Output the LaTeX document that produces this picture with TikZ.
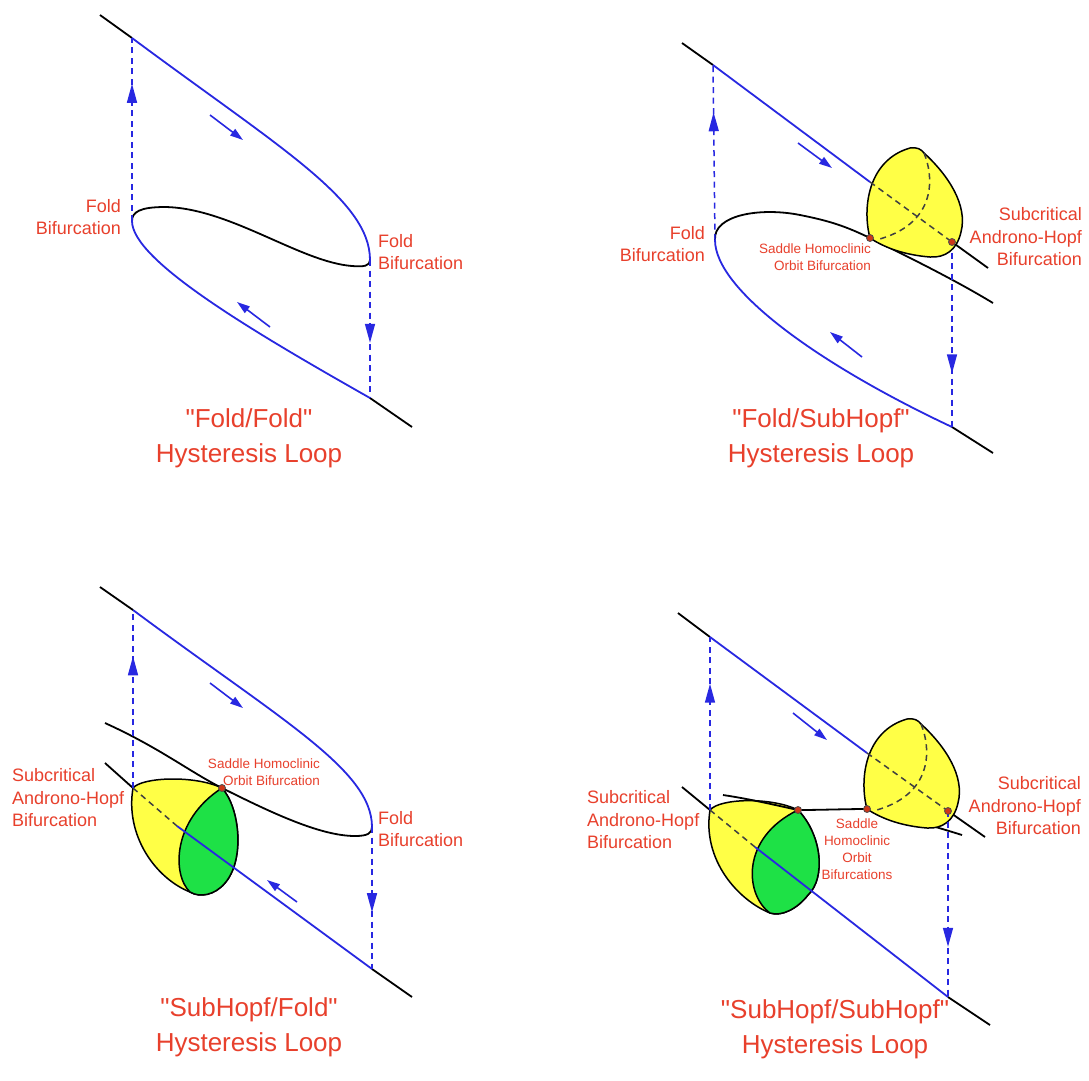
\documentclass[tikz,border=0pt]{standalone}
\usepackage{fontspec}
\setmainfont{Liberation Sans}
\usetikzlibrary{arrows.meta,decorations.markings}
\newcommand\sq{\XeTeXglyph\XeTeXcharglyph34\relax}
\definecolor{lbl}{RGB}{232,64,44}
\definecolor{bl}{RGB}{40,40,225}
\definecolor{yel}{RGB}{255,255,70}
\definecolor{grn}{RGB}{30,225,70}
\definecolor{dotc}{RGB}{205,55,25}
\tikzset{
 blk/.style={line width=1.8pt, black},
 blu/.style={line width=1.8pt, bl},
 jmpline/.style={line width=1.5pt, bl, dash pattern=on 6pt off 4.5pt},
 jumpat/.style={postaction={decorate, decoration={markings, mark=at position #1 with {\arrow[bl]{Triangle[length=19pt,width=10pt]}}}}},
 flowarr/.style={line width=1.6pt, bl, -{Triangle[length=13pt,width=8pt]}},
 hid/.style={line width=1.5pt, black!75, dash pattern=on 6pt off 4.5pt},
 surf/.style={line width=1.5pt, black, line join=round},
 lab/.style={text=lbl, font=\fontsize{18}{22.5}\selectfont, inner sep=0pt},
 slab/.style={text=lbl, font=\fontsize{13.5}{17}\selectfont, inner sep=0pt},
 ttl/.style={text=lbl, font=\fontsize{26}{35}\selectfont, align=center, inner sep=0pt},
 rdot/.style={circle, fill=dotc, draw=black!70, line width=0.8pt, minimum size=7pt, inner sep=0pt},
 bulb/.pic={
  \draw[surf, fill=yel] (0,0) .. controls (-8,-30) and (-2,-78) .. (40,-90)
     .. controls (47,-91) and (51,-89) .. (54,-85)
     .. controls (78,-63) and (98,-33) .. (91,-6)
     .. controls (87,12) and (75,20) .. (60,19)
     .. controls (35,17) and (15,10) .. (0,0) -- cycle;
  \draw[hid] (54,-85) .. controls (65,-58) and (65,-13) .. (6,2);
 }
}
\begin{document}
\begin{tikzpicture}[x=1pt,y=-1pt]
\fill[white] (0,0) rectangle (1089,1080);
\useasboundingbox (0,0) rectangle (1089,1080);

% ================= Panel 1 : Fold/Fold =================
\coordinate (p1a) at (100,15);
\coordinate (p1b) at (132,38);
\coordinate (p1R) at (370,260);
\coordinate (p1L) at (132,221);
\coordinate (p1c) at (370,398);
\coordinate (p1d) at (412,427);
\draw[blk] (p1a) -- (p1b);
\draw[blu] (p1b) .. controls (280,148) and (370,200) .. (p1R);
\draw[blk] (p1R) .. controls (370,266) and (364,267) .. (352,266)
   .. controls (300,262) and (230,208) .. (165,207)
   .. controls (140,207) and (132,212) .. (p1L);
\draw[blu] (p1L) .. controls (132,260) and (250,330) .. (p1c);
\draw[blk] (p1c) -- (p1d);
\draw[jmpline, jumpat=0.75] (p1L) -- (p1b);
\draw[jmpline, jumpat=0.6] (p1R) -- (p1c);
\coordinate (p1u1) at (210,115); \coordinate (p1u2) at (243,140);
\coordinate (p1v1) at (270,327); \coordinate (p1v2) at (237,302);
\draw[flowarr] (p1u1) -- (p1u2);
\draw[flowarr] (p1v1) -- (p1v2);
\node[lab, anchor=east, align=right] (p1lf) at (121,217) {Fold\\Bifurcation};
\node[lab, anchor=west, align=left] (p1rf) at (378,252) {Fold\\Bifurcation};
\node[ttl] (p1t) at (249,438) {\sq Fold/Fold\sq\\Hysteresis Loop};

% ================= Panel 2 : Fold/SubHopf =================
\coordinate (p2a) at (682,43);
\coordinate (p2b) at (713,65);
\coordinate (p2e) at (870,182);
\coordinate (p2h) at (952,242);
\coordinate (p2f) at (988,268);
\coordinate (p2L) at (715,240);
\coordinate (p2s) at (870,238);
\coordinate (p2g) at (993,303);
\coordinate (p2c) at (952,427);
\coordinate (p2d) at (993,453);
\draw[blk] (p2a) -- (p2b);
\draw[blu] (p2b) -- (p2e);
\draw[blk] (p2h) -- (p2f);
\draw[blk] (p2L) .. controls (713,215) and (760,207) .. (800,215)
   .. controls (830,221) and (845,226) .. (p2s)
   .. controls (900,253) and (950,277) .. (p2g);
\draw[blu] (p2L) .. controls (715,290) and (820,365) .. (p2c);
\draw[blk] (p2c) -- (p2d);
\draw[jmpline, jumpat=0.73] (p2L) -- (p2b);
\draw[jmpline, jumpat=0.71] (p2h) -- (p2c);
\coordinate (p2u1) at (798,143); \coordinate (p2u2) at (832,168);
\coordinate (p2v1) at (862,357); \coordinate (p2v2) at (830,332);
\draw[flowarr] (p2u1) -- (p2u2);
\draw[flowarr] (p2v1) -- (p2v2);
\pic at (p2s) {bulb};
\draw[hid] (p2e) -- (p2h);
\node[rdot] (p2sd) at (p2s) {};
\node[rdot] (p2hd) at (p2h) {};
\node[lab, anchor=east, align=right] (p2lf) at (705,244) {Fold\\Bifurcation};
\node[slab, anchor=east, align=right] (p2sl) at (871,257) {Saddle Homoclinic\\Orbit Bifurcation};
\node[lab, anchor=east, align=right] (p2rl) at (1082,237) {Subcritical\\Androno-Hopf\\Bifurcation};
\node[ttl] (p2t) at (821,438) {\sq Fold/SubHopf\sq\\Hysteresis Loop};

% ================= Panel 3 : SubHopf/Fold =================
\coordinate (p3a) at (100,587);
\coordinate (p3b) at (133,610);
\coordinate (p3R) at (372,827);
\coordinate (p3m0) at (105,723);
\coordinate (p3S) at (222,788);
\coordinate (p3n0) at (105,763);
\coordinate (p3H) at (133,788);
\coordinate (p3e) at (177,826);
\coordinate (p3c) at (372,969);
\coordinate (p3d) at (412,997);
\draw[blu] (p3b) .. controls (281,720) and (372,770) .. (p3R);
\draw[blk] (p3a) -- (p3b);
\draw[blk] (p3n0) -- (p3H);
\draw[surf, fill=yel] (p3H) .. controls (142,777) and (195,775) .. (p3S)
   .. controls (240,808) and (245,860) .. (225,883)
   .. controls (215,895) and (200,898) .. (190,892)
   .. controls (155,878) and (125,835) .. (p3H) -- cycle;
\draw[surf, fill=grn] (p3S) .. controls (240,808) and (245,860) .. (225,883)
   .. controls (215,895) and (200,898) .. (190,892)
   .. controls (172,875) and (172,820) .. (p3S) -- cycle;
\draw[hid] (p3H) -- (p3e);
\draw[blu] (p3e) -- (p3c);
\draw[blk] (p3c) -- (p3d);
\draw[blk] (p3m0) .. controls (160,748) and (190,772) .. (p3S)
   .. controls (270,812) and (320,836) .. (355,836)
   .. controls (368,836) and (372,833) .. (p3R);
\draw[jmpline, jumpat=0.74] (p3H) -- (p3b);
\draw[jmpline, jumpat=0.6] (p3R) -- (p3c);
\coordinate (p3u1) at (210,683); \coordinate (p3u2) at (243,708);
\coordinate (p3v1) at (297,902); \coordinate (p3v2) at (267,880);
\draw[flowarr] (p3u1) -- (p3u2);
\draw[flowarr] (p3v1) -- (p3v2);
\node[rdot] (p3sd) at (p3S) {};
\node[lab, anchor=west, align=left] (p3ll) at (12,798) {Subcritical\\Androno-Hopf\\Bifurcation};
\node[slab, anchor=east, align=right] (p3sl) at (320,772) {Saddle Homoclinic\\Orbit Bifurcation};
\node[lab, anchor=west, align=left] (p3rl) at (378,829) {Fold\\Bifurcation};
\node[ttl] (p3t) at (249,1027) {\sq SubHopf/Fold\sq\\Hysteresis Loop};

% ================= Panel 4 : SubHopf/SubHopf =================
\coordinate (p4a) at (678,613);
\coordinate (p4b) at (710,637);
\coordinate (p4e) at (867,753);
\coordinate (p4h) at (948,811);
\coordinate (p4f) at (985,837);
\coordinate (p4m0) at (723,795);
\coordinate (p4S1) at (798,810);
\coordinate (p4S2) at (867,809);
\coordinate (p4g) at (962,835);
\coordinate (p4n0) at (682,787);
\coordinate (p4H) at (710,810);
\coordinate (p4k) at (755,847);
\coordinate (p4c) at (948,997);
\coordinate (p4d) at (990,1025);
\draw[blk] (p4a) -- (p4b);
\draw[blu] (p4b) -- (p4e);
\draw[blk] (p4h) -- (p4f);
\draw[blk] (p4n0) -- (p4H);
\draw[blk] (p4S2) .. controls (895,815) and (930,825) .. (p4g);
\draw[surf, fill=yel] (p4H) .. controls (720,798) and (772,797) .. (p4S1)
   .. controls (822,835) and (826,878) .. (808,895)
   .. controls (798,908) and (782,917) .. (770,913)
   .. controls (738,900) and (702,860) .. (p4H) -- cycle;
\draw[surf, fill=grn] (p4S1) .. controls (822,835) and (826,878) .. (808,895)
   .. controls (798,908) and (782,917) .. (770,913)
   .. controls (745,895) and (740,838) .. (p4S1) -- cycle;
\draw[hid] (p4H) -- (p4k);
\draw[blu] (p4k) -- (p4c);
\draw[blk] (p4c) -- (p4d);
\draw[blk] (p4m0) .. controls (750,799) and (775,805) .. (p4S1)
   .. controls (820,810) and (845,809) .. (p4S2);
\pic at (p4S2) {bulb};
\draw[hid] (p4e) -- (p4h);
\draw[jmpline, jumpat=0.73] (p4H) -- (p4b);
\draw[jmpline, jumpat=0.73] (p4h) -- (p4c);
\coordinate (p4u1) at (793,713); \coordinate (p4u2) at (827,740);
\draw[flowarr] (p4u1) -- (p4u2);
\node[rdot] (p4s1d) at (p4S1) {};
\node[rdot] (p4s2d) at (p4S2) {};
\node[rdot] (p4hd) at (p4h) {};
\node[lab, anchor=west, align=left] (p4ll) at (587,820) {Subcritical\\Androno-Hopf\\Bifurcation};
\node[slab, align=center] (p4sl) at (857,849) {Saddle\\Homoclinic\\Orbit\\Bifurcations};
\node[lab, anchor=east, align=right] (p4rl) at (1081,806) {Subcritical\\Androno-Hopf\\Bifurcation};
\node[ttl] (p4t) at (835,1029) {\sq SubHopf/SubHopf\sq\\Hysteresis Loop};
\end{tikzpicture}
\end{document}
